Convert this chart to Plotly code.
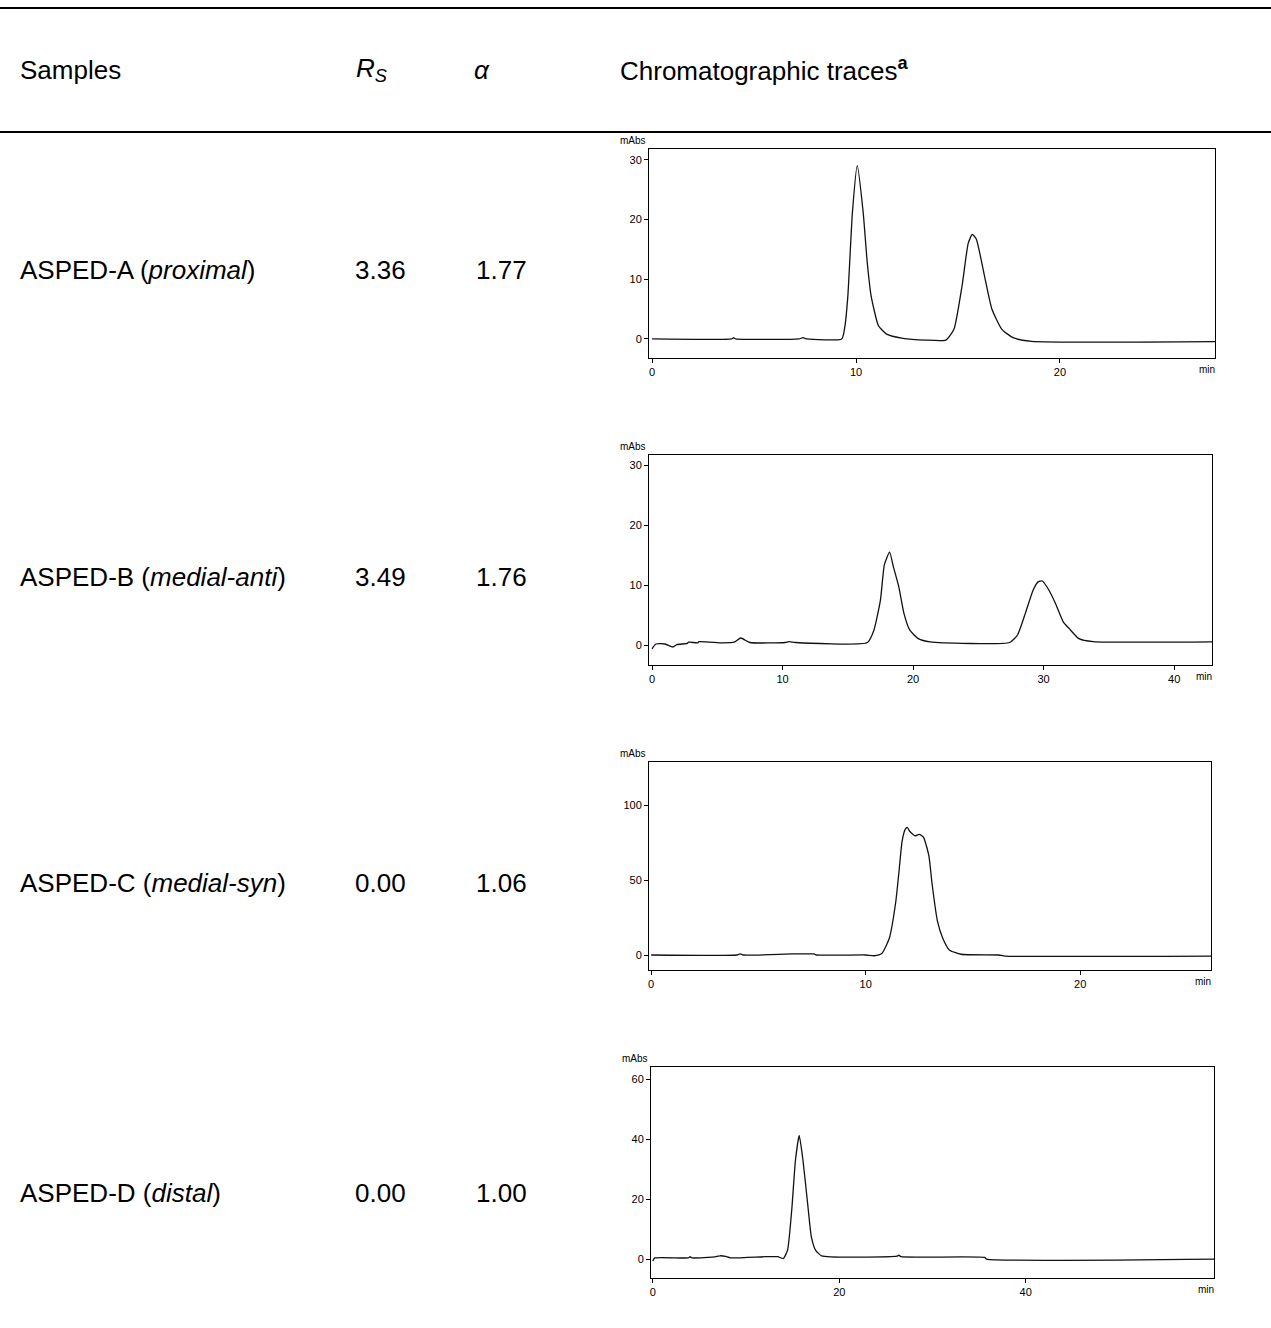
import plotly.graph_objects as go

W, H = 1271, 1328

# ---------------- data ----------------
samples = ["ASPED-A (<i>proximal</i>)", "ASPED-B (<i>medial-anti</i>)",
           "ASPED-C (<i>medial-syn</i>)", "ASPED-D (<i>distal</i>)"]
rs_values = ["3.36", "3.49", "0.00", "0.00"]
alpha_values = ["1.77", "1.76", "1.06", "1.00"]

A_t = [0, 3.9, 4.0, 4.1, 7.2, 7.4, 7.6, 9.3, 9.45, 9.6, 9.82, 10.06, 10.35, 10.55, 10.74,
       11.1, 11.5, 12.3, 13.4, 14.4, 14.8, 15.2, 15.5, 15.7, 15.9, 16.3, 16.66, 17.15,
       17.7, 18.6, 27.6]
A_v = [0, 0, 0.2, 0, 0, 0.2, 0, 0, 2, 7.2, 21, 29, 21.2, 12.8, 7.2,
       2.2, 0.8, 0.1, -0.2, -0.2, 1.6, 8.9, 16, 17.5, 16.7, 10.5, 5, 1.6,
       0.2, -0.4, -0.45]

B_t = [0, 0.3, 1.0, 1.6, 1.9, 2.7, 2.8, 3.5, 3.6, 5.4, 6.3, 6.8, 7.5, 10.2, 10.5, 11.0,
       16.5, 17.0, 17.5, 17.8, 18.2, 18.5, 18.9, 19.3, 19.75, 20.4, 21.3, 27.4, 28.0,
       28.6, 29.2, 29.6, 29.9, 30.4, 30.9, 31.5, 31.95, 32.7, 33.8, 42.9]
B_v = [-0.6, 0.2, 0.2, -0.3, 0.1, 0.3, 0.5, 0.4, 0.6, 0.4, 0.5, 1.2, 0.45, 0.45, 0.6, 0.45,
       0.45, 2.5, 7.5, 13.4, 15.5, 13, 9.8, 5.3, 2.5, 1.1, 0.55, 0.45, 1.7,
       5.3, 9.2, 10.6, 10.7, 9.2, 7, 3.9, 2.8, 1.1, 0.6, 0.55]

C_t = [0, 4.0, 4.15, 4.3, 6.6, 7.6, 7.7, 10.0, 10.4, 10.75, 11.1, 11.4, 11.55, 11.7, 11.85,
       11.95, 12.05, 12.3, 12.5, 12.7, 12.95, 13.1, 13.35, 13.6, 13.9, 14.45, 16.2, 16.5, 26.1]
C_v = [0, 0, 0.8, 0, 0.7, 0.7, 0, 0, -0.5, 1, 11, 35, 55, 76, 84,
       85, 82.5, 79.4, 80.5, 78.5, 66, 47, 22.4, 11, 3.4, 0.5, 0, -0.7, -0.7]

D_t = [0, 0.2, 3.8, 4.0, 4.2, 6.8, 7.2, 7.8, 8.3, 12.1, 13.4, 14.0, 14.45, 14.9, 15.3, 15.7,
       16.1, 16.6, 17.0, 17.45, 18.1, 26.2, 26.4, 26.6, 35.6, 35.8, 60.2]
D_v = [-0.6, 0.4, 0.4, 0.8, 0.4, 0.8, 1.1, 0.9, 0.4, 0.8, 0.8, 0.2, 3, 16.4, 33, 41.2,
       33, 18.6, 7.5, 3, 1.1, 1.0, 1.3, 0.8, 0.55, 0, 0]

traces = [(A_t, A_v), (B_t, B_v), (C_t, C_v), (D_t, D_v)]
x_ticks = [[0, 10, 20], [0, 10, 20, 30, 40], [0, 10, 20], [0, 20, 40]]
y_ticks = [[0, 10, 20, 30], [0, 10, 20, 30], [0, 50, 100], [0, 20, 40, 60]]
x_ranges = [[-0.15, 27.6], [-0.23, 42.9], [-0.1, 26.1], [-0.2, 60.2]]
y_ranges = [[-3.2, 31.8], [-3.3, 31.7], [-10, 128.7], [-6.3, 64]]

# ---------------- layout helpers (pixel -> paper) ----------------
def px(x):
    return x / W

def py(y):
    return 1 - y / H

boxes = [(649, 1215, 149, 358), (649, 1212, 455, 665),
         (649, 1211, 762, 970), (651, 1214, 1067, 1278)]
row_y = [270, 577, 883, 1193]

TXT = "Liberation Sans, Arial, Helvetica, sans-serif"
NARROW = "Liberation Sans Narrow, Arial Narrow, Liberation Sans, sans-serif"

fig = go.Figure()
annotations = []
shapes = []
layout_axes = {}

for i, ((t, v), (x0, x1, y0, y1)) in enumerate(zip(traces, boxes)):
    n = "" if i == 0 else str(i + 1)
    fig.add_trace(go.Scatter(x=t, y=v, mode="lines",
                             line=dict(color="#111111", width=1.3, shape="spline", smoothing=0.5),
                             xaxis="x" + n, yaxis="y" + n, showlegend=False, hoverinfo="skip"))
    layout_axes["xaxis" + n] = dict(
        domain=[px(x0), px(x1)], range=x_ranges[i], anchor="y" + n,
        showline=True, mirror=True, linecolor="black", linewidth=1,
        ticks="outside", ticklen=4, tickcolor="black", tickvals=x_ticks[i],
        showgrid=False, zeroline=False,
        tickfont=dict(family=NARROW, size=11, color="black"))
    layout_axes["yaxis" + n] = dict(
        domain=[py(y1), py(y0)], range=y_ranges[i], anchor="x" + n,
        showline=True, mirror=True, linecolor="black", linewidth=1,
        ticks="outside", ticklen=4, tickcolor="black", tickvals=y_ticks[i],
        showgrid=False, zeroline=False,
        tickfont=dict(family=NARROW, size=11, color="black"))
    annotations.append(dict(xref="paper", yref="paper", x=px(x0 - 1), y=py(y0 - 1),
                            xanchor="right", yanchor="bottom", showarrow=False,
                            text="mAbs", font=dict(family=NARROW, size=10, color="black")))
    annotations.append(dict(xref="paper", yref="paper", x=px(x1 + 2), y=py(y1 + 4),
                            xanchor="right", yanchor="top", showarrow=False,
                            text="min", font=dict(family=NARROW, size=10, color="black")))
    # table row texts
    annotations.append(dict(xref="paper", yref="paper", x=px(18), y=py(row_y[i]),
                            xanchor="left", yanchor="middle", showarrow=False,
                            text=samples[i], font=dict(family=TXT, size=26, color="black")))
    annotations.append(dict(xref="paper", yref="paper", x=px(353), y=py(row_y[i]),
                            xanchor="left", yanchor="middle", showarrow=False,
                            text=rs_values[i], font=dict(family=TXT, size=26, color="black")))
    annotations.append(dict(xref="paper", yref="paper", x=px(474), y=py(row_y[i]),
                            xanchor="left", yanchor="middle", showarrow=False,
                            text=alpha_values[i], font=dict(family=TXT, size=26, color="black")))

# header
header = [(18, "Samples"), (354, "<i>R</i><sub><i>S</i></sub>"), (472, "<i>α</i>"),
          (618, "Chromatographic traces<sup><b>a</b></sup>")]
for x, txt in header:
    annotations.append(dict(xref="paper", yref="paper", x=px(x), y=py(70),
                            xanchor="left", yanchor="middle", showarrow=False,
                            text=txt, font=dict(family=TXT, size=26, color="black")))

for yl in (8, 132):
    shapes.append(dict(type="line", xref="paper", yref="paper", x0=0, x1=1,
                       y0=py(yl), y1=py(yl), line=dict(color="black", width=2)))

fig.update_layout(width=W, height=H, margin=dict(l=0, r=0, t=0, b=0),
                  paper_bgcolor="white", plot_bgcolor="white",
                  annotations=annotations, shapes=shapes, **layout_axes)

fig.write_html("out.html", config={"displayModeBar": False},
               post_script="document.body.style.margin='0';document.body.style.overflow='hidden';")
